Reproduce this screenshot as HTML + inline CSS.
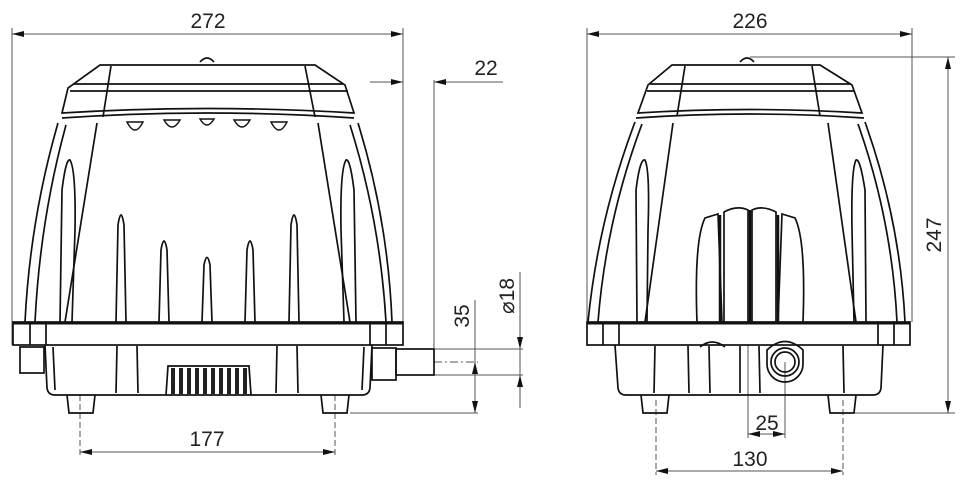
<!DOCTYPE html>
<html><head><meta charset="utf-8"><style>
html,body{margin:0;padding:0;background:#fff;width:960px;height:486px;overflow:hidden}
svg{display:block}
text{font-family:"Liberation Sans","DejaVu Sans",sans-serif;font-size:21px;fill:#222}
</style></head><body>
<svg width="960" height="486" viewBox="0 0 960 486" xmlns="http://www.w3.org/2000/svg">
<defs>
<marker id="a" viewBox="0 0 12 6" refX="12" refY="3" markerWidth="12" markerHeight="6" orient="auto-start-reverse" markerUnits="userSpaceOnUse"><path d="M0,0L12,3L0,6z" fill="#111"/></marker>
</defs>
<g stroke="#555" stroke-width="1" fill="none">
<line x1="12" y1="28" x2="12" y2="345"/><line x1="403" y1="28" x2="403" y2="325"/>
<line x1="12" y1="34" x2="403" y2="34" marker-start="url(#a)" marker-end="url(#a)"/>
<line x1="370" y1="82" x2="403" y2="82" marker-end="url(#a)"/>
<line x1="503" y1="82" x2="434" y2="82" marker-end="url(#a)"/>
<line x1="434" y1="80" x2="434" y2="348"/>
<line x1="475" y1="300" x2="475" y2="413"/>
<line x1="475" y1="378" x2="475" y2="362" marker-end="url(#a)"/>
<line x1="475" y1="395" x2="475" y2="413" marker-end="url(#a)"/>
<line x1="350" y1="413" x2="478" y2="413"/>
<line x1="434" y1="362" x2="478" y2="362" stroke-dasharray="8,3,2,3"/>
<line x1="520" y1="272" x2="520" y2="408"/>
<line x1="520" y1="330" x2="520" y2="349" marker-end="url(#a)"/>
<line x1="520" y1="395" x2="520" y2="375" marker-end="url(#a)"/>
<line x1="434" y1="349" x2="523" y2="349"/><line x1="434" y1="375" x2="523" y2="375"/>
<line x1="80" y1="395" x2="80" y2="456" stroke-dasharray="6,3"/><line x1="335" y1="395" x2="335" y2="456" stroke-dasharray="6,3"/>
<line x1="80" y1="452" x2="335" y2="452" marker-start="url(#a)" marker-end="url(#a)"/>
<line x1="587" y1="28" x2="587" y2="322"/><line x1="912" y1="28" x2="912" y2="322"/>
<line x1="587" y1="34" x2="912" y2="34" marker-start="url(#a)" marker-end="url(#a)"/>
<line x1="750" y1="57" x2="955" y2="57"/><line x1="855" y1="413" x2="955" y2="413"/>
<line x1="948" y1="57" x2="948" y2="413" marker-start="url(#a)" marker-end="url(#a)"/>
<line x1="748" y1="340" x2="748" y2="438"/><line x1="785" y1="362" x2="785" y2="438"/>
<line x1="766" y1="434" x2="748" y2="434" marker-end="url(#a)"/>
<line x1="766" y1="434" x2="785" y2="434" marker-end="url(#a)"/>
<line x1="656" y1="400" x2="656" y2="475" stroke-dasharray="6,3"/><line x1="843" y1="400" x2="843" y2="475" stroke-dasharray="6,3"/>
<line x1="656" y1="471" x2="843" y2="471" marker-start="url(#a)" marker-end="url(#a)"/>
</g>
<text x="208" y="28" text-anchor="middle">272</text>
<text x="486" y="75" text-anchor="middle">22</text>
<text transform="translate(469,316) rotate(-90)" text-anchor="middle">35</text>
<text transform="translate(514,296) rotate(-90)" text-anchor="middle">⌀18</text>
<text x="207" y="446" text-anchor="middle">177</text>
<text x="750" y="28" text-anchor="middle">226</text>
<text transform="translate(941,235) rotate(-90)" text-anchor="middle">247</text>
<text x="767" y="430" text-anchor="middle">25</text>
<text x="750" y="466" text-anchor="middle">130</text>

<g stroke="#111" stroke-width="1.7" fill="none">
<path d="M200,62 Q207,54 214,62"/>
<path d="M100,65 L315,65 L345,85 L354,113 Q207,104 62,113 L68,88 Z"/>
<line x1="74" y1="84" x2="343" y2="84"/><line x1="70" y1="91" x2="348" y2="91"/>
<line x1="111" y1="66" x2="103" y2="117"/><line x1="305" y1="66" x2="315" y2="117"/>
<path d="M62,118 Q207,108 354,118"/>
<path d="M58,123 Q30,220 25,322"/><path d="M358,123 Q388,220 392,322"/>
<path d="M66,125 Q40,220 35,322"/><path d="M350,125 Q380,220 386,322"/>
<line x1="97" y1="123" x2="65" y2="322"/><line x1="318" y1="123" x2="350" y2="322"/>
<path d="M60,322 L62,190 Q66,158 70,160 Q76,170 75,230 L72,322"/>
<path d="M356,322 L354,190 Q350,158 346,160 Q340,170 341,230 L344,322"/>
<g stroke-width="1.4">
<path d="M127,122 q8,16 16,0 z"/><path d="M164,120 q8,14 16,0 z"/><path d="M200,119 q7,12 14,0 z"/><path d="M234,120 q8,14 16,0 z"/><path d="M271,122 q8,16 16,0 z"/>
</g>
<path d="M116,322 L118,225 Q121,205 124,225 L126,322"/>
<path d="M159,322 L161,250 Q164,232 167,250 L169,322"/>
<path d="M202,322 L204,265 Q207,250 210,265 L212,322"/>
<path d="M245,322 L247,250 Q250,232 253,250 L255,322"/>
<path d="M289,322 L291,225 Q294,205 297,225 L299,322"/>
<rect x="13" y="322" width="390" height="23" fill="#fff"/>
<line x1="13" y1="323" x2="403" y2="323" stroke-width="3"/>
<line x1="30" y1="322" x2="30" y2="345"/><line x1="46" y1="322" x2="46" y2="345"/>
<line x1="370" y1="322" x2="370" y2="345"/><line x1="386" y1="322" x2="386" y2="345"/>
<path d="M45,345 L47,388 Q48,395 55,395 L362,395 Q369,395 370,388 L372,345"/>
<path d="M53,347 L55,390"/><path d="M364,347 L362,390"/>
<line x1="117" y1="346" x2="116" y2="393"/><line x1="137" y1="346" x2="138" y2="393"/>
<line x1="277" y1="346" x2="276" y2="393"/><line x1="297" y1="346" x2="298" y2="393"/>
<rect x="20" y="347" width="24" height="26"/>
<rect x="372" y="348" width="24" height="32"/>
<rect x="396" y="349" width="38" height="26"/>
<path d="M67,395 L69,413 L93,413 L95,395"/><path d="M321,395 L323,413 L347,413 L349,395"/>
<path d="M166,395 L168,366 L249,366 L251,395"/>
</g>
<g fill="#222">
<rect x="171" y="368" width="4" height="26"/><rect x="179" y="368" width="4" height="26"/><rect x="187" y="368" width="4" height="26"/><rect x="195" y="368" width="4" height="26"/><rect x="203" y="368" width="4" height="26"/><rect x="211" y="368" width="4" height="26"/><rect x="219" y="368" width="4" height="26"/><rect x="227" y="368" width="4" height="26"/><rect x="235" y="368" width="4" height="26"/><rect x="243" y="368" width="4" height="26"/>
</g>

<g stroke="#111" stroke-width="1.7" fill="none">
<path d="M740,62 Q747,54 754,62"/>
<path d="M672,65 L820,65 L852,85 L862,113 Q750,106 638,113 L648,85 Z"/>
<line x1="650" y1="84" x2="850" y2="84"/><line x1="647" y1="91" x2="854" y2="91"/>
<line x1="685" y1="66" x2="677" y2="116"/><line x1="812" y1="66" x2="820" y2="116"/>
<path d="M636,118 Q750,110 864,118"/>
<path d="M635,122 Q598,220 588,322"/><path d="M865,122 Q900,220 905,322"/>
<path d="M642,124 Q606,220 598,322"/><path d="M858,124 Q892,220 897,322"/>
<line x1="673" y1="123" x2="645" y2="322"/><line x1="828" y1="123" x2="856" y2="322"/>
<path d="M637,322 L636,190 Q640,158 645,160 Q650,170 648,230 L647,322"/>
<path d="M866,322 L865,190 Q860,158 856,160 Q851,170 852,230 L854,322"/>
<path d="M697,322 Q694,240 705,218 L718,214 L722,322"/>
<path d="M803,322 Q806,240 795,218 L782,214 L778,322"/>
<path d="M724,322 L724,212 Q737,205 748,210 L748,322"/>
<path d="M752,322 L752,210 Q763,205 776,212 L776,322"/>
<line x1="720" y1="215" x2="720" y2="322" stroke-width="2.5"/><line x1="750" y1="210" x2="750" y2="322" stroke-width="2.5"/><line x1="778" y1="215" x2="778" y2="322" stroke-width="2.5"/>
<rect x="587" y="322" width="323" height="23" fill="#fff"/>
<line x1="587" y1="323" x2="910" y2="323" stroke-width="3"/>
<line x1="603" y1="322" x2="603" y2="345"/><line x1="619" y1="322" x2="619" y2="345"/>
<line x1="878" y1="322" x2="878" y2="345"/><line x1="894" y1="322" x2="894" y2="345"/>
<path d="M615,345 L618,388 Q619,395 626,395 L873,395 Q880,395 881,388 L883,345"/>
<line x1="655" y1="346" x2="654" y2="393"/><line x1="688" y1="346" x2="689" y2="393"/><line x1="709" y1="346" x2="710" y2="393"/>
<line x1="740" y1="346" x2="740" y2="393"/><line x1="759" y1="346" x2="760" y2="393"/><line x1="843" y1="346" x2="844" y2="393"/>
<path d="M700,347 Q712,337 725,347"/>
<path d="M767,350 Q785,333 803,350 L803,364 A18,18 0 0 1 767,364 Z"/>
<circle cx="785" cy="362" r="14"/><circle cx="785" cy="362" r="10"/>
<path d="M641,395 L643,413 L667,413 L669,395"/><path d="M828,395 L830,413 L854,413 L856,395"/>
</g>
</svg>
</body></html>
